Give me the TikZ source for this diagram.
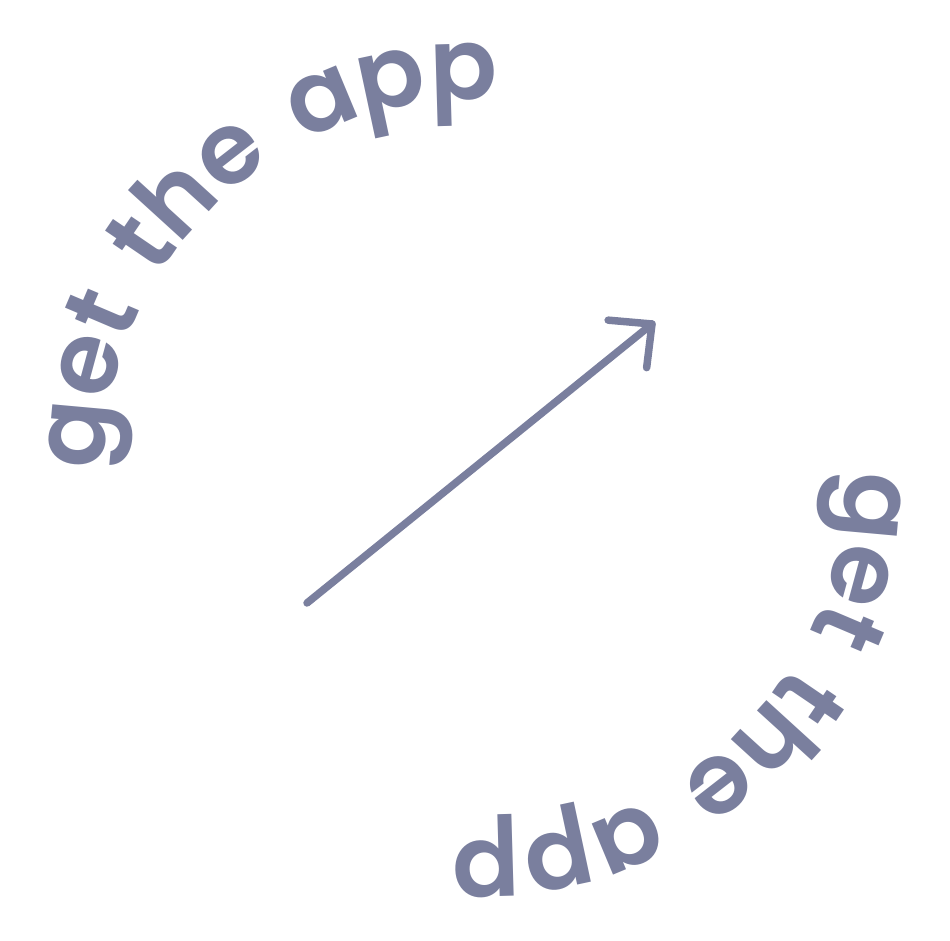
\documentclass[tikz,border=0pt]{standalone}
\usepackage{fontspec}
\usetikzlibrary{decorations.text}
\newfontfamily\popfont{Poppins SemiBold}[LetterSpace=10]
\definecolor{ink}{RGB}{122,127,158}
\begin{document}
\begin{tikzpicture}[x=1pt,y=1pt,
  ringtext/.style={decorate,decoration={text along path,
     text color=ink,
     text format delimiters={|}{|},
     text={|\popfont\fontsize{100}{110}\selectfont|get the app}}},
  arrowline/.style={draw=ink,line width=7.5pt,line cap=round,line join=round}]
\useasboundingbox (0,0) rectangle (950,941);
\coordinate (c) at (475,470.5);
\path[ringtext] (c) ++(180:371) arc[start angle=180,end angle=0,radius=371];
\path[ringtext] (c) ++(0:371) arc[start angle=0,end angle=-180,radius=371];
\coordinate (tail) at (307,338);
\coordinate (tip) at (652,617);
\draw[arrowline] (tail) -- (tip);
\draw[arrowline] (tip) ++(175:44) coordinate (hl) -- (tip) -- ++(263:44) coordinate (hr);
\end{tikzpicture}
\end{document}
